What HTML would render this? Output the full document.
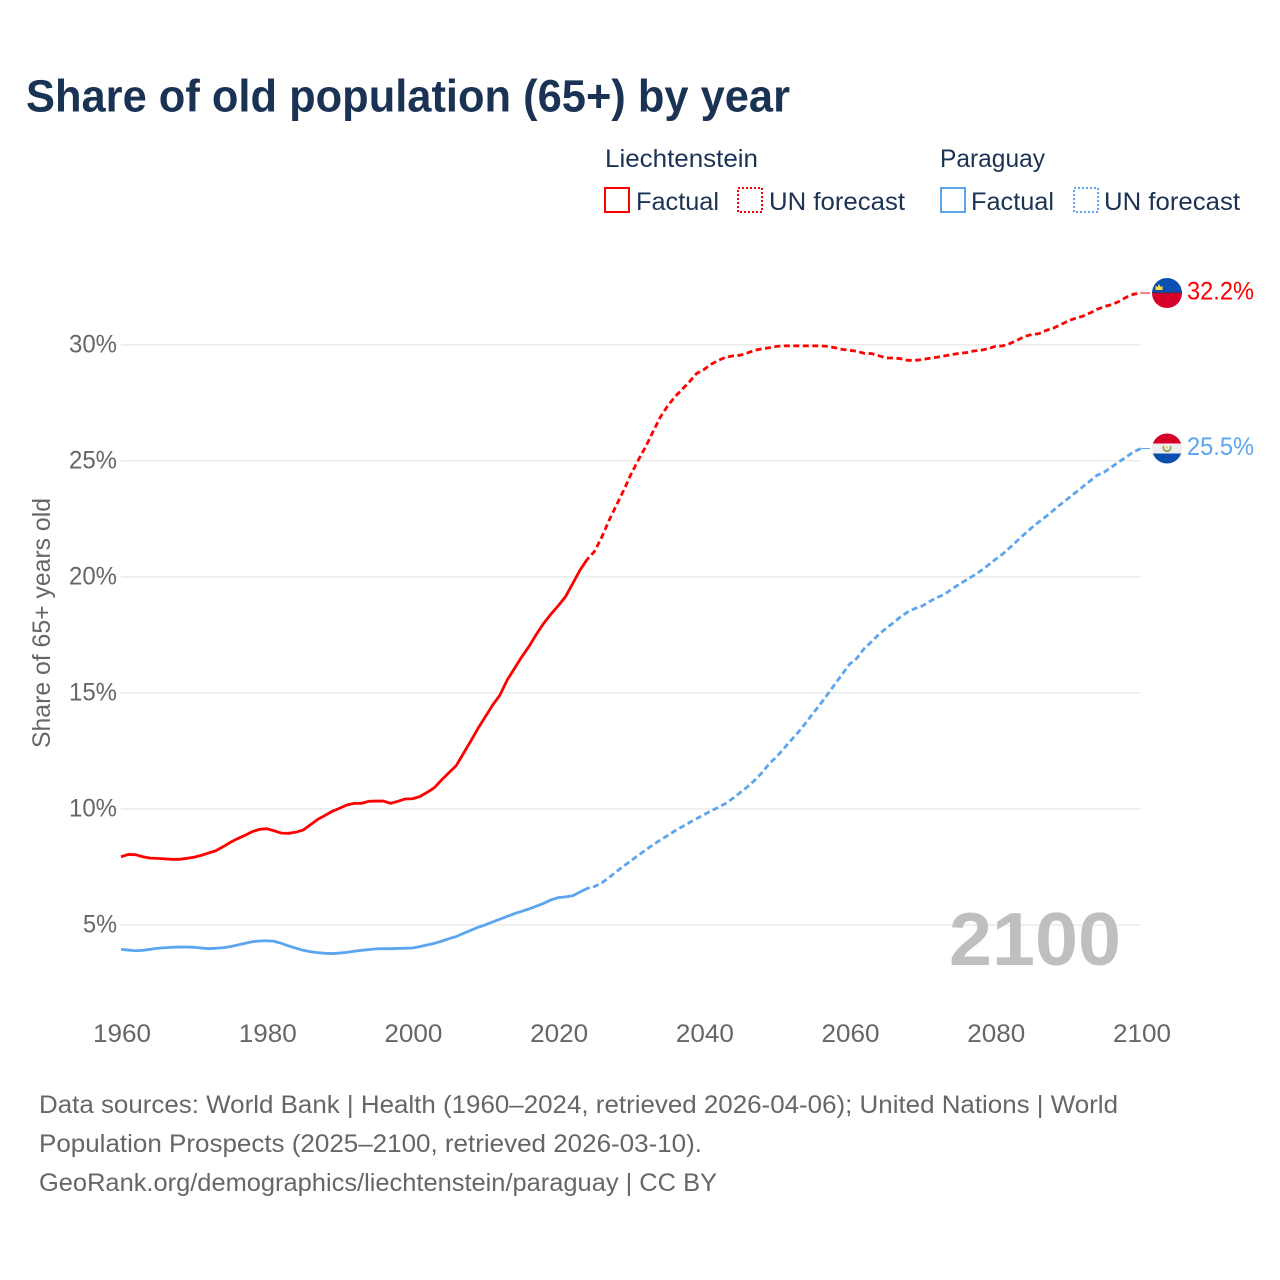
<!DOCTYPE html>
<html lang="en">
<head>
<meta charset="utf-8">
<title>Share of old population (65+) by year</title>
<style>
html,body{margin:0;padding:0;background:#fff;width:1280px;height:1280px;overflow:hidden}
svg{display:block}
text{font-family:"Liberation Sans",sans-serif}
.tick{font-size:25px;fill:#666}
.leg{font-size:25px;fill:#1a3354}
.src{font-size:25px;fill:#666}
</style>
</head>
<body>
<svg id="chart" width="1280" height="1280" viewBox="0 0 1280 1280" xmlns="http://www.w3.org/2000/svg">
  <defs>
    <clipPath id="clip-li"><circle cx="0" cy="0" r="15"/></clipPath>
    <clipPath id="clip-py"><circle cx="0" cy="0" r="15"/></clipPath>
  </defs>
  <rect width="1280" height="1280" fill="#fff"/>
  <text x="26" y="111.5" font-size="45" font-weight="700" fill="#1a3354" textLength="764" lengthAdjust="spacingAndGlyphs">Share of old population (65+) by year</text>

  <g>
    <text class="leg" x="605" y="167" textLength="153" lengthAdjust="spacingAndGlyphs">Liechtenstein</text>
    <rect x="605" y="188" width="24" height="24" fill="none" stroke="#ff0000" stroke-width="2"/>
    <text class="leg" x="636" y="210" textLength="83" lengthAdjust="spacingAndGlyphs">Factual</text>
    <rect x="738" y="188" width="24" height="24" fill="none" stroke="#ff0000" stroke-width="2" stroke-dasharray="2 2"/>
    <text class="leg" x="769" y="210" textLength="136" lengthAdjust="spacingAndGlyphs">UN forecast</text>
    <text class="leg" x="940" y="167" textLength="105" lengthAdjust="spacingAndGlyphs">Paraguay</text>
    <rect x="941" y="188" width="24" height="24" fill="none" stroke="#5ca5ee" stroke-width="2"/>
    <text class="leg" x="971" y="210" textLength="83" lengthAdjust="spacingAndGlyphs">Factual</text>
    <rect x="1074" y="188" width="24" height="24" fill="none" stroke="#5ca5ee" stroke-width="2" stroke-dasharray="2 2"/>
    <text class="leg" x="1104" y="210" textLength="136" lengthAdjust="spacingAndGlyphs">UN forecast</text>
  </g>

  <g id="grid"></g>
  <g id="yticks"></g>
  <g id="xticks"></g>
  <text transform="translate(50,623) rotate(-90)" text-anchor="middle" font-size="25" fill="#666" textLength="250" lengthAdjust="spacingAndGlyphs">Share of 65+ years old</text>
  <text x="949" y="965" font-size="75" font-weight="700" fill="#bfbfbf" textLength="172" lengthAdjust="spacingAndGlyphs">2100</text>
  <g id="series"></g>

  <g id="flag-li">
    <g clip-path="url(#clip-li)">
      <rect x="-15" y="-15" width="30" height="15" fill="#0b4fb0"/>
      <rect x="-15" y="0" width="30" height="15" fill="#d6002a"/>
      <rect x="-15" y="-1" width="30" height="1.2" fill="#333c60"/>
      <path d="M-11.5,-3 L-11.5,-7 L-9.5,-6 L-8,-9 L-6.5,-6 L-4.5,-7 L-4.5,-3 Z" fill="#ffd83d"/>
    </g>
  </g>
  <g id="flag-py">
    <g clip-path="url(#clip-py)">
      <rect x="-15" y="-15" width="30" height="10" fill="#d6002a"/>
      <rect x="-15" y="-5" width="30" height="10" fill="#eeeeee"/>
      <rect x="-15" y="5" width="30" height="10" fill="#0a4fb0"/>
      <path d="M-3.2,-2.5 A3.6,3.6 0 1 0 3.2,-2.5" fill="none" stroke="#7fa650" stroke-width="1.6"/>
      <circle cx="0" cy="-1" r="1.1" fill="#f4c542"/>
    </g>
  </g>
  <text id="end-li" class="tick" x="1187" fill="#ff0000" style="fill:#ff0000" textLength="67" lengthAdjust="spacingAndGlyphs"></text>
  <text id="end-py" class="tick" x="1187" style="fill:#5ca5ee" textLength="67" lengthAdjust="spacingAndGlyphs"></text>

  <g>
    <text class="src" x="39" y="1113" textLength="1079" lengthAdjust="spacingAndGlyphs">Data sources: World Bank | Health (1960–2024, retrieved 2026-04-06); United Nations | World</text>
    <text class="src" x="39" y="1152" textLength="663" lengthAdjust="spacingAndGlyphs">Population Prospects (2025–2100, retrieved 2026-03-10).</text>
    <text class="src" x="39" y="1191" textLength="678" lengthAdjust="spacingAndGlyphs">GeoRank.org/demographics/liechtenstein/paraguay | CC BY</text>
  </g>
</svg>
<script>
const yTickValues = [5, 10, 15, 20, 25, 30];
const xTickYears = [1960, 1980, 2000, 2020, 2040, 2060, 2080, 2100];
const factualStartYear = 1960;
const forecastStartYear = 2024;

const liechtensteinFactual = [7.94,8.04,8.03,7.94,7.88,7.87,7.85,7.83,7.83,7.87,7.92,8.0,8.1,8.2,8.37,8.56,8.72,8.86,9.02,9.12,9.15,9.06,8.96,8.95,9.0,9.09,9.32,9.55,9.72,9.9,10.03,10.17,10.24,10.24,10.33,10.34,10.34,10.24,10.33,10.43,10.44,10.53,10.71,10.91,11.25,11.56,11.86,12.39,12.92,13.47,13.97,14.47,14.9,15.55,16.05,16.55,17.0,17.52,17.99,18.39,18.75,19.14,19.71,20.29,20.76];
const liechtensteinForecast = [20.76,21.1,21.72,22.44,23.09,23.73,24.42,25.03,25.6,26.24,26.87,27.35,27.75,28.07,28.4,28.76,28.93,29.16,29.33,29.46,29.52,29.55,29.65,29.76,29.83,29.87,29.93,29.95,29.95,29.95,29.95,29.95,29.95,29.93,29.87,29.8,29.76,29.72,29.63,29.62,29.53,29.43,29.43,29.4,29.33,29.33,29.36,29.42,29.46,29.52,29.57,29.63,29.66,29.73,29.76,29.83,29.93,29.95,30.05,30.19,30.36,30.44,30.48,30.62,30.72,30.87,31.03,31.14,31.23,31.37,31.53,31.65,31.73,31.87,32.05,32.18,32.23];
const paraguayFactual = [3.95,3.92,3.89,3.91,3.95,4.0,4.02,4.04,4.05,4.05,4.04,4.01,3.98,4.0,4.02,4.07,4.14,4.21,4.28,4.31,4.32,4.3,4.21,4.1,4.0,3.91,3.85,3.81,3.78,3.77,3.79,3.82,3.87,3.91,3.94,3.97,3.98,3.98,3.99,4.0,4.01,4.07,4.14,4.21,4.3,4.41,4.5,4.64,4.77,4.9,5.01,5.13,5.25,5.37,5.49,5.59,5.69,5.81,5.93,6.08,6.18,6.21,6.26,6.42,6.58];
const paraguayForecast = [6.58,6.66,6.82,7.05,7.3,7.54,7.77,8.0,8.23,8.45,8.66,8.85,9.05,9.23,9.41,9.58,9.75,9.92,10.07,10.24,10.46,10.71,10.96,11.24,11.57,11.96,12.25,12.61,12.97,13.32,13.71,14.12,14.52,14.95,15.38,15.81,16.24,16.49,16.91,17.2,17.52,17.78,18.02,18.28,18.49,18.64,18.75,18.94,19.11,19.24,19.47,19.67,19.86,20.05,20.26,20.5,20.75,20.98,21.26,21.55,21.84,22.12,22.37,22.61,22.87,23.13,23.38,23.63,23.88,24.13,24.38,24.52,24.74,24.96,25.17,25.39,25.53];

const SVG_NS = 'http://www.w3.org/2000/svg';
const RED = '#ff0000';
const BLUE = '#5ca5ee';
function xScale(year) { return 121 + (year - 1960) * (1020 / 140); }
function yScale(pct) { return 925 - (pct - 5) * 23.21; }
function pointsFor(values, startYear) {
  return values.map(function (v, i) { return xScale(startYear + i).toFixed(2) + ',' + yScale(v).toFixed(2); }).join(' ');
}
function make(tag, parent) {
  const el = document.createElementNS(SVG_NS, tag);
  parent.appendChild(el);
  return el;
}

const grid = document.getElementById('grid');
const yticks = document.getElementById('yticks');
const xticks = document.getElementById('xticks');
const series = document.getElementById('series');

yTickValues.forEach(function (v) {
  const line = make('line', grid);
  
  
  line.setAttribute('x1', xScale(1960));
  line.setAttribute('x2', xScale(2100));
  line.setAttribute('y1', yScale(v));
  line.setAttribute('y2', yScale(v));
  line.setAttribute('stroke', '#ebebeb');
  line.setAttribute('stroke-width', '1.5');
  const label = make('text', yticks);
  
  
  label.setAttribute('class', 'tick');
  label.setAttribute('x', 117);
  label.setAttribute('y', yScale(v) + 7.5);
  label.setAttribute('text-anchor', 'end');
  label.setAttribute('textLength', String(v).length > 1 ? 48 : 34);
  label.setAttribute('lengthAdjust', 'spacingAndGlyphs');
  label.textContent = v + '%';
});

xTickYears.forEach(function (yr) {
  const label = make('text', xticks);
  
  
  label.setAttribute('class', 'tick');
  label.setAttribute('x', xScale(yr) + 1);
  label.setAttribute('y', 1042);
  label.setAttribute('text-anchor', 'middle');
  label.setAttribute('textLength', 58);
  label.setAttribute('lengthAdjust', 'spacingAndGlyphs');
  label.textContent = yr;
});

function drawSeries(slug, color, factual, forecast) {
  const solid = make('polyline', series);
  
  
  solid.setAttribute('points', pointsFor(factual, factualStartYear));
  solid.setAttribute('fill', 'none');
  solid.setAttribute('stroke', color);
  solid.setAttribute('stroke-width', '2.8');
  solid.setAttribute('stroke-linejoin', 'round');
  const dashed = make('polyline', series);
  
  
  dashed.setAttribute('points', pointsFor(forecast, forecastStartYear));
  dashed.setAttribute('fill', 'none');
  dashed.setAttribute('stroke', color);
  dashed.setAttribute('stroke-width', '2.8');
  dashed.setAttribute('stroke-dasharray', '6 3.5');
  dashed.setAttribute('stroke-dashoffset', '-6');
  const endValue = forecast[forecast.length - 1];
  const leader = make('line', series);
  
  
  leader.setAttribute('x1', xScale(2100));
  leader.setAttribute('x2', xScale(2100) + 9);
  leader.setAttribute('y1', yScale(endValue));
  leader.setAttribute('y2', yScale(endValue));
  leader.setAttribute('stroke', color);
  leader.setAttribute('stroke-width', '1');
  return endValue;
}

const endLi = drawSeries('liechtenstein', RED, liechtensteinFactual, liechtensteinForecast);
const endPy = drawSeries('paraguay', BLUE, paraguayFactual, paraguayForecast);

document.getElementById('flag-li').setAttribute('transform', 'translate(1167,' + yScale(endLi) + ')');
document.getElementById('flag-py').setAttribute('transform', 'translate(1167,' + yScale(endPy) + ')');
const labelLi = document.getElementById('end-li');
labelLi.setAttribute('y', yScale(endLi) + 6.5);
labelLi.textContent = endLi.toFixed(1) + '%';
const labelPy = document.getElementById('end-py');
labelPy.setAttribute('y', yScale(endPy) + 6.5);
labelPy.textContent = endPy.toFixed(1) + '%';
</script>
</body>
</html>
